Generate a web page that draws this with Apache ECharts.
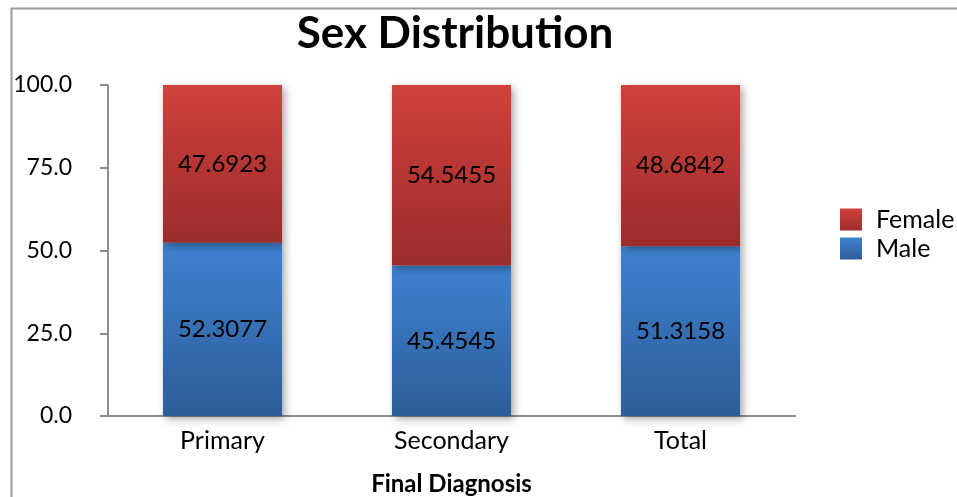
<!DOCTYPE html>
<html>
<head>
<meta charset="utf-8">
<script src="https://cdn.jsdelivr.net/npm/echarts@6/dist/echarts.min.js"></script>
<style>
  html, body { margin: 0; padding: 0; background: #fff; }
  #chart { width: 957px; height: 497px; }
</style>
</head>
<body>
<div id="chart"></div>
<script>
// Final diagnosis groups and the share of each sex (percent)
const categories = ['Primary', 'Secondary', 'Total'];
const maleValues = [52.3077, 45.4545, 51.3158];
const femaleValues = [47.6923, 54.5455, 48.6842];
const yTicks = [0, 25, 50, 75, 100];

const FONT = 'Lato, "Open Sans", sans-serif';

function vGrad(top, bottom) {
  return {
    type: 'linear', x: 0, y: 0, x2: 0, y2: 1,
    colorStops: [{ offset: 0, color: top }, { offset: 1, color: bottom }]
  };
}

const barShadow = {
  shadowBlur: 8,
  shadowColor: 'rgba(0,0,0,0.35)',
  shadowOffsetX: 3,
  shadowOffsetY: 3
};

const labelStyle = {
  show: true,
  position: 'inside',
  color: '#000',
  fontFamily: FONT,
  fontSize: 24,
  formatter: p => String(p.value)
};

const chart = echarts.init(document.getElementById('chart'), null, { renderer: 'canvas' });

chart.setOption({
  animation: false,
  backgroundColor: '#fff',
  title: {
    text: 'Sex Distribution',
    left: 450,
    textAlign: 'center',
    top: 7,
    textStyle: { fontFamily: FONT, fontWeight: 'bold', fontSize: 44, color: '#000' }
  },
  graphic: [{
    type: 'rect',
    left: 9, top: 6,
    shape: { width: 1000, height: 600 },
    style: { fill: 'none', stroke: '#9a9a9a', lineWidth: 2 },
    silent: true
  }],
  legend: {
    orient: 'vertical',
    left: 835,
    top: 202,
    icon: 'rect',
    itemWidth: 22,
    itemHeight: 22,
    itemGap: 4,
    data: ['Female', 'Male'],
    textStyle: { fontFamily: FONT, fontSize: 25, color: '#000', padding: [0, 0, 0, 9] }
  },
  grid: { left: 108, right: 162, top: 85, bottom: 81, outerBoundsMode: 'none', containLabel: false },
  xAxis: {
    type: 'category',
    data: categories,
    name: 'Final Diagnosis',
    nameLocation: 'middle',
    nameGap: 56,
    nameTextStyle: { fontFamily: FONT, fontWeight: 'bold', fontSize: 24, color: '#000' },
    axisLine: { lineStyle: { color: '#8c8c8c', width: 2 } },
    axisTick: { show: false },
    axisLabel: { fontFamily: FONT, fontSize: 25, color: '#000', margin: 12 }
  },
  yAxis: {
    type: 'value',
    min: yTicks[0],
    max: yTicks[yTicks.length - 1],
    interval: yTicks[1] - yTicks[0],
    axisLine: { show: true, lineStyle: { color: '#8c8c8c', width: 2 } },
    axisTick: { show: true, length: 8, lineStyle: { color: '#8c8c8c', width: 2 } },
    splitLine: { show: false },
    axisLabel: {
      fontFamily: FONT, fontSize: 23, color: '#000', margin: 36,
      formatter: v => v.toFixed(1)
    }
  },
  series: [
    {
      name: 'Male',
      type: 'bar',
      stack: 'sex',
      barWidth: '52%',
      data: maleValues,
      itemStyle: Object.assign({ color: vGrad('#3e82d0', '#2d5d99') }, barShadow),
      label: labelStyle
    },
    {
      name: 'Female',
      type: 'bar',
      stack: 'sex',
      barWidth: '52%',
      data: femaleValues,
      itemStyle: Object.assign({ color: vGrad('#d0413c', '#9b2c2c') }, barShadow),
      label: labelStyle
    }
  ]
});
</script>
</body>
</html>
